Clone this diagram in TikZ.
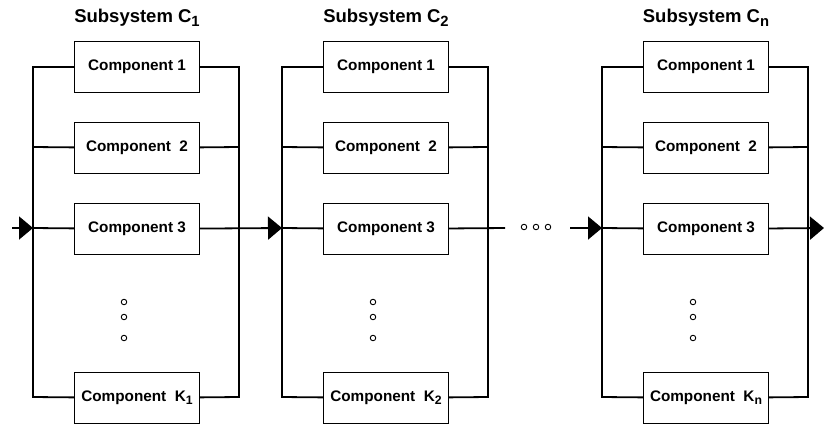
\documentclass[tikz,border=0pt]{standalone}
\usepackage{fontspec}
\setmainfont{Liberation Sans}
\usetikzlibrary{arrows.meta}
\newcommand{\idx}[1]{\raisebox{-0.35ex}{\scalebox{0.8}{#1}}}

\begin{document}
\begin{tikzpicture}[x=1pt,y=-1pt,
  comp node/.style={rectangle,draw,fill=white,line width=1.2pt,minimum width=125pt,
    minimum height=51pt,inner sep=0pt,font=\fontsize{15.3}{17}\selectfont\bfseries},
  title node/.style={font=\fontsize{18.5}{20}\selectfont\bfseries},
  dot node/.style={circle,draw,line width=0.9pt,inner sep=0pt,minimum size=5.5pt},
  wire/.style={line width=1.8pt},
  flow/.style={wire,-{Triangle[length=14pt,width=23pt]}}]

  \useasboundingbox (0,0) rectangle (824,426);

  % one parallel block per subsystem
  \foreach \s/\x in {1/33,2/282,n/602}{
    \node[title node] (t\s) at (\x+104,18) {Subsystem C\idx{\s}};
    \node[comp node] (c\s-1) at (\x+104,67) {Component 1};
    \node[comp node] (c\s-2) at (\x+104,148) {Component~~2};
    \node[comp node] (c\s-3) at (\x+104,229) {Component 3};
    \node[comp node] (c\s-k) at (\x+104,398) {Component~~K\idx{\s}};
    \node[dot node] (v\s-1) at (\x+91,302) {};
    \node[dot node] (v\s-2) at (\x+91,317) {};
    \node[dot node] (v\s-3) at (\x+91,338) {};

    \coordinate (l\s-1) at (\x,67);
    \coordinate (l\s-2) at (\x,147);
    \coordinate (l\s-3) at (\x,228);
    \coordinate (l\s-k) at (\x,397);
    \coordinate (r\s-1) at (\x+206,67);
    \coordinate (r\s-2) at (\x+206,147);
    \coordinate (r\s-k) at (\x+206,397);

    \draw[wire] (c\s-1) -- (l\s-1) -- (l\s-k) -- (c\s-k);
    \draw[wire] (c\s-2) -- (l\s-2);
    \draw[wire] (c\s-3) -- (l\s-3);
    \draw[wire] (c\s-1) -- (r\s-1) -- (r\s-k) -- (c\s-k);
    \draw[wire] (c\s-2) -- (r\s-2);
  }

  \coordinate (in) at (12,228);
  \coordinate (gapa) at (505,228);
  \coordinate (gapb) at (570,228);
  \coordinate (out) at (824,228);
  \node[dot node] (h1) at (524,227) {};
  \node[dot node] (h2) at (536,227) {};
  \node[dot node] (h3) at (548,227) {};

  \draw[flow] (in) -- (l1-3);
  \draw[flow] (c1-3) -- (l2-3);
  \draw[wire] (c2-3) -- (gapa);
  \draw[flow] (gapb) -- (ln-3);
  \draw[flow] (cn-3) -- (out);

\end{tikzpicture}
\end{document}
